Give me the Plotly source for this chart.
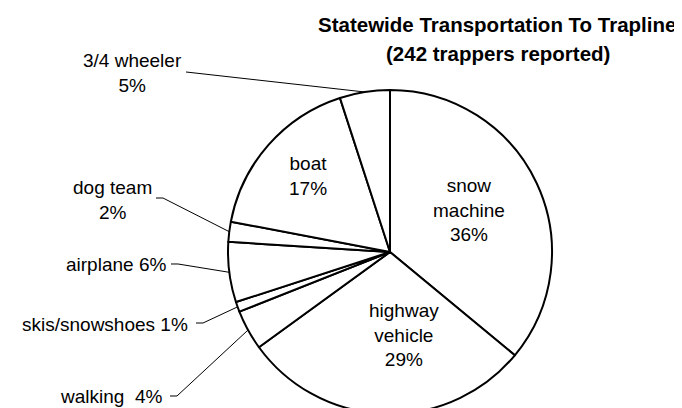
import numpy as np
import plotly.graph_objects as go

# transport mode shares, clockwise from 12 o'clock
labels = ['snow machine', 'highway vehicle', 'walking', 'skis/snowshoes',
          'airplane', 'dog team', 'boat', '3/4 wheeler']
values = [36, 29, 4, 1, 6, 2, 17, 5]
label_text = ['snow<br>machine<br>36%', 'highway<br>vehicle<br>29%', 'walking  4%',
              'skis/snowshoes 1%', 'airplane 6%', 'dog team<br>2%', 'boat<br>17%',
              '3/4 wheeler<br>5%']

W, H = 682, 408
cx, cy, r = 382, 244, 162

# label centres (pixels) and start of the leader line (None = label inside the slice)
text_pos = [(461, 202), (396, 327), (103, 388), (97, 316),
            (108, 256), (104, 192), (300, 168), (124, 65)]
leader_start = [None, None, (162, 388), (188, 315), (163, 256), (148, 190), None, (178, 64)]
tick = [0, 0, 7, 7, 7, 7, 0, 0]

fnt = dict(family='Arial, Liberation Sans, sans-serif', size=19, color='black')

fig = go.Figure(go.Pie(
    labels=labels, values=values, sort=False, direction='clockwise', rotation=0,
    marker=dict(colors=['white'] * len(values), line=dict(color='black', width=2)),
    textinfo='none', hoverinfo='label+percent', showlegend=False,
    domain=dict(x=[(cx - r) / W, (cx + r) / W], y=[(H - cy - r) / H, (H - cy + r) / H]),
))

total = sum(values)
cum = np.cumsum(values)
mids = (cum - np.array(values) / 2) / total * 2 * np.pi


def px(x, y):
    return f'{x / W:.5f},{1 - y / H:.5f}'


annotations = []
shapes = []
for txt, (tx, ty), st, tk, a in zip(label_text, text_pos, leader_start, tick, mids):
    annotations.append(dict(
        x=tx / W, y=1 - ty / H, xref='paper', yref='paper', text=txt,
        showarrow=False, font=fnt, align='center',
        xanchor='center', yanchor='middle'))
    if st is not None:
        # leader line to the middle of the slice's outer edge
        ex = cx + r * np.sin(a)
        ey = cy - r * np.cos(a)
        sx, sy = st
        path = f'M {px(sx, sy)} L {px(sx + tk, sy)} L {px(ex, ey)}'
        shapes.append(dict(type='path', path=path, xref='paper', yref='paper',
                           line=dict(color='black', width=1)))

bold = dict(family='Arial, Liberation Sans, sans-serif', size=20.5, color='black', weight='bold')
annotations.append(dict(x=489 / W, y=1 - 17 / H, xref='paper', yref='paper', showarrow=False,
                        xanchor='center', yanchor='middle',
                        text='Statewide Transportation To Trapline', font=bold))
annotations.append(dict(x=490 / W, y=1 - 45 / H, xref='paper', yref='paper', showarrow=False,
                        xanchor='center', yanchor='middle',
                        text='(242 trappers reported)', font=bold))

fig.update_layout(
    width=W, height=H, margin=dict(l=0, r=0, t=0, b=0),
    paper_bgcolor='white', plot_bgcolor='white',
    annotations=annotations, shapes=shapes,
)

fig.write_html("out.html")
